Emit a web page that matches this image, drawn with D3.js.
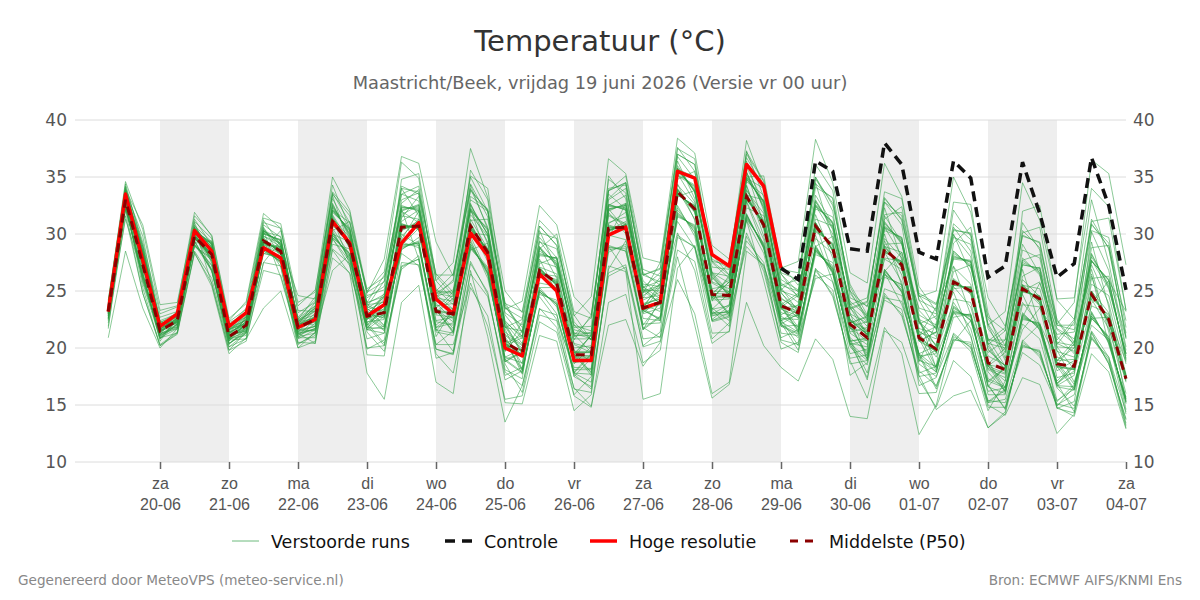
<!DOCTYPE html>
<html>
<head>
<meta charset="utf-8">
<script src="https://cdn.jsdelivr.net/npm/d3@7"></script>
<style>
  body { margin: 0; background: #fff; }
  svg { display: block; font-family: "DejaVu Sans", sans-serif; }
</style>
</head>
<body>
<svg id="chart" width="1200" height="600"></svg>
<script>
// first value at vr 19-06 06:00, one value every 6 hours
const startTime = new Date(2026, 5, 19, 6);
const stepHours = 6;

const hres = [23.2, 33.5, 27.7, 21.9, 23.0, 30.3, 28.5, 21.9, 23.1, 28.8, 27.9, 21.8, 22.5, 31.1, 29.2, 22.8,
  23.8, 29.2, 31.0, 24.3, 23.0, 30.1, 28.1, 20.0, 19.3, 26.5, 25.0, 18.9, 18.9, 29.9, 30.6, 23.5,
  24.0, 35.5, 34.9, 28.2, 27.2, 36.1, 34.2, 27.0];

const median = [23.2, 33.0, 27.3, 21.5, 22.4, 29.8, 28.2, 21.0, 22.0, 29.4, 28.5, 21.8, 22.5, 31.1, 29.1, 22.8,
  23.1, 30.6, 30.7, 23.2, 23.0, 30.7, 28.4, 20.5, 19.6, 26.8, 25.7, 19.4, 19.4, 30.5, 30.6, 23.5,
  24.0, 33.7, 32.2, 24.7, 24.6, 33.3, 30.8, 23.7, 23.1, 30.7, 28.8, 22.1, 20.9, 28.7, 27.3, 20.9,
  19.9, 25.8, 25.0, 18.7, 18.1, 25.2, 24.3, 18.6, 18.4, 24.7, 22.5, 17.3];

// control run is shown from 29-06 00:00 (step 39) onward
const controlStart = 39;
const control = [27.0, 26.0, 36.4, 35.5, 28.7, 28.5, 38.0, 36.1, 28.4, 27.8, 36.4, 34.9, 26.2, 27.2,
  36.3, 31.8, 26.2, 27.4, 36.7, 32.5, 25.1];

const runs = [
  [23.4,33.2,27.9,21.3, 22.7,30.6,28.8,21.7, 22.9,30.0,29.5,22.1, 24.0,33.6,31.0,24.9, 25.8,34.2,33.5,26.5, 24.9,32.0,30.5,21.8, 21.5,28.2,27.9,20.7, 22.9,33.8,34.5,26.4, 27.0,37.0,36.1,27.6, 26.4,34.8,32.9,24.8, 23.4,30.3,29.1,21.8, 19.5,26.2,25.6,18.9, 18.4,23.0,22.9,16.6, 18.4,25.6,24.0,18.9, 20.0,28.3,25.3,19.5],
  [23.9,33.4,28.9,22.2, 22.2,30.0,27.7,21.2, 21.6,28.3,27.9,21.0, 21.3,30.3,27.7,22.2, 20.4,27.1,27.8,19.9, 19.5,27.6,24.7,17.6, 18.3,24.7,24.2,17.5, 19.1,30.8,30.3,23.8, 24.3,33.4,32.5,24.4, 25.8,35.4,32.3,25.5, 25.0,32.4,31.1,23.4, 24.0,33.2,31.2,24.6, 23.8,30.3,30.1,22.0, 23.2,34.5,31.2,24.3, 24.4,34.0,32.4,23.3],
  [22.5,32.6,26.0,21.2, 22.1,29.0,27.3,20.3, 21.8,29.7,28.2,22.0, 22.8,30.8,29.4,22.5, 24.3,32.5,32.0,25.0, 26.5,33.8,32.1,23.4, 24.1,32.5,30.8,24.5, 22.9,33.8,34.5,26.4, 26.9,37.6,35.5,28.2, 26.4,34.8,32.9,24.9, 22.8,31.0,28.5,22.4, 21.2,28.4,27.6,20.6, 21.4,28.5,27.1,20.8, 20.2,27.3,27.0,20.1, 18.1,25.0,22.2,17.6],
  [23.0,33.2,27.2,21.7, 22.6,29.6,28.3,20.8, 22.4,30.5,29.0,22.6, 23.7,31.9,30.5,23.4, 22.8,30.9,30.4,23.5, 21.7,28.7,27.0,18.6, 16.1,23.5,21.8,16.5, 14.9,22.0,22.5,18.4, 20.5,26.0,23.0,16.0, 17.0,28.5,27.3,21.9, 21.2,29.0,26.5,20.8, 17.8,24.2,23.4,17.2, 14.8,18.9,17.5,13.0, 14.2,20.7,19.2,15.3, 16.8,22.6,21.0,15.1],
  [23.9,33.8,28.4,22.2, 23.1,30.2,29.3,21.3, 22.2,29.1,28.8,21.6, 23.1,32.5,29.9,24.0, 26.4,33.5,34.2,25.9, 27.5,37.5,33.2,25.0, 23.1,30.1,29.6,22.3, 20.7,32.6,32.1,25.4, 23.8,34.0,31.9,24.9, 22.8,31.8,28.7,22.5, 20.2,26.4,25.1,18.6, 18.9,26.9,24.9,19.5, 20.2,25.5,25.3,18.4, 19.6,27.9,26.4,20.7, 22.5,30.8,29.2,20.8],
  [22.9,32.2,26.6,20.8, 22.1,29.9,28.2,21.3, 22.3,29.2,28.7,21.5, 21.9,29.7,28.3,21.6, 21.3,29.3,28.8,22.0, 23.3,30.4,28.7,20.2, 20.9,28.9,27.2,21.3, 21.3,32.0,32.7,24.8, 27.5,37.0,36.1,27.6, 27.3,38.2,34.1,27.0, 27.6,38.3,34.5,26.6, 25.7,36.2,33.3,25.4, 23.2,30.9,29.5,22.6, 20.2,27.3,27.0,20.1, 20.0,28.2,25.4,19.5],
  [23.4,32.8,27.8,21.3, 21.7,29.4,26.7,20.7, 21.6,28.3,28.0,20.9, 22.2,31.4,28.8,23.1, 23.4,30.3,31.0,22.9, 22.7,31.0,28.1,20.8, 17.7,25.3,23.6,18.1, 18.1,28.4,29.1,21.6, 24.2,33.5,32.4,24.5, 24.4,33.6,30.5,23.9, 21.8,28.4,27.1,20.2, 18.9,26.9,24.9,19.5, 16.6,20.7,20.5,14.8, 14.8,20.1,19.8,14.7, 14.3,21.4,18.6,13.8],
  [23.1,33.1,27.4,21.6, 22.5,29.7,28.1,21.1, 21.9,29.5,28.4,21.9, 22.6,31.0,29.2,22.7, 24.8,32.0,32.6,24.4, 23.2,30.5,28.6,20.3, 19.8,26.6,25.9,19.2, 19.2,30.7,30.4,23.7, 25.4,35.8,33.7,26.6, 26.3,34.9,32.8,25.0, 24.5,33.0,30.5,24.0, 21.1,28.5,27.5,20.7, 19.7,26.1,24.8,18.9, 16.5,22.5,22.2,16.6, 16.3,23.2,20.4,15.7],
  [23.6,33.7,28.5,22.1, 22.8,30.6,28.8,21.6, 22.7,30.0,29.5,22.3, 23.5,32.0,30.4,23.5, 24.4,32.4,32.1,24.9, 24.8,32.2,30.3,21.9, 19.5,27.0,25.5,19.6, 19.6,30.3,30.8,23.3, 22.6,31.6,30.7,22.8, 23.3,31.3,29.2,22.0, 21.3,28.9,26.6,20.7, 17.2,24.8,22.8,17.8, 18.4,23.1,22.9,16.6, 16.0,23.1,21.6,17.1, 18.6,24.4,22.8,17.0],
  [21.9,31.6,24.8,20.2, 21.2,28.3,25.7,19.8, 20.6,27.5,27.2,20.3, 21.3,29.6,27.6,21.4, 19.7,27.2,27.8,19.5, 17.8,25.3,22.8,15.2, 15.1,21.1,20.6,14.5, 15.9,27.2,26.7,15.5, 16.0,27.0,29.0,23.4, 24.8,33.0,31.1,23.5, 23.3,30.5,29.0,21.9, 22.3,31.1,29.1,22.9, 22.0,27.9,27.7,20.2, 17.9,25.5,24.0,18.8, 16.8,22.6,21.0,15.2],
  [23.3,32.9,27.7,21.4, 22.3,29.9,27.9,21.2, 22.5,30.3,29.1,22.5, 23.2,32.4,30.0,23.9, 24.7,32.1,32.5,24.5, 26.0,34.4,31.5,24.0, 21.4,28.3,27.8,20.8, 20.8,32.5,32.2,25.3, 25.9,35.2,34.3,26.0, 27.4,37.2,34.7,26.9, 26.6,34.4,33.1,25.0, 22.4,31.0,29.2,22.3, 19.6,26.0,24.7,18.5, 16.1,23.0,21.7,16.5, 14.9,20.8,19.2,13.2],
  [23.0,33.3,27.3,21.8, 23.0,30.3,29.2,21.4, 22.1,29.6,28.3,21.7, 22.4,31.2,29.0,22.9, 21.8,28.7,29.4,21.4, 21.1,29.3,26.4,19.2, 19.9,26.5,26.0,19.1, 21.2,32.1,32.6,24.9, 25.3,35.7,33.8,26.5, 24.7,33.1,31.0,23.6, 21.6,28.5,27.0,20.3, 20.7,28.9,27.1,21.1, 21.9,28.0,27.6,20.3, 21.5,30.3,28.8,22.5, 20.5,27.6,26.0,19.0],
  [23.8,33.5,28.8,21.9, 22.3,29.6,28.1,20.9, 22.1,29.3,28.6,21.9, 23.3,32.3,30.1,23.8, 23.0,30.8,30.5,23.3, 23.1,30.6,28.5,20.4, 19.4,26.9,25.6,19.5, 17.6,28.9,28.5,22.1, 22.2,32.1,30.2,23.3, 21.9,29.4,27.5,20.5, 19.6,27.0,24.5,19.1, 19.4,26.4,25.5,19.0, 17.9,23.7,22.4,17.1, 16.5,22.6,22.1,16.9, 14.4,21.3,18.6,13.7],
  [22.6,32.5,26.1,21.1, 22.0,29.1,27.2,20.4, 21.3,28.7,27.5,21.3, 20.4,28.6,26.5,17.8, 15.5,24.0,25.5,17.0, 16.0,26.8,21.0,13.5, 16.7,22.9,22.4,15.9, 17.5,29.0,28.5,21.6, 22.7,31.7,30.6,22.9, 22.9,31.7,28.8,22.4, 23.4,30.4,29.1,21.8, 20.6,29.0,27.0,21.2, 18.3,23.2,22.8,16.7, 14.7,20.2,19.7,14.8, 14.0,19.5,17.9,12.9],
  [23.5,33.4,28.2,21.9, 22.7,30.1,28.4,21.3, 22.3,29.8,28.9,22.1, 23.6,32.1,30.3,23.6, 25.9,34.0,33.7,26.4, 26.4,33.9,32.0,23.5, 22.6,30.7,29.0,22.8, 24.5,36.6,35.3,27.9, 27.5,38.4,37.1,29.0, 27.8,37.0,34.6,26.5, 24.9,32.5,31.0,23.5, 24.1,33.1,31.3,24.5, 25.0,35.0,31.9,24.4, 21.9,29.8,29.3,22.0, 22.0,31.3,28.7,21.3],
  [23.1,32.9,27.6,21.6, 22.9,30.5,28.9,21.6, 22.8,30.1,29.4,22.3, 22.6,30.9,29.3,22.6, 23.2,30.5,30.9,23.0, 24.4,32.6,29.9,22.3, 21.0,28.8,27.3,21.2, 19.6,30.3,30.8,23.3, 22.5,31.8,30.5,23.0, 23.2,31.4,29.1,22.1, 23.0,30.8,28.7,22.2, 22.8,30.6,29.6,22.4, 20.1,25.6,25.2,18.5, 18.3,25.0,24.5,18.4, 18.2,24.9,22.3,17.5],
  [22.8,32.3,26.4,20.9, 22.4,29.7,27.9,21.1, 21.5,28.5,27.8,21.1, 21.7,29.9,28.1,21.8, 23.0,30.7,30.6,23.3, 21.5,28.9,26.8,18.8, 19.7,26.7,25.8,19.3, 19.3,30.6,30.5,23.6, 24.1,33.6,32.3,24.6, 24.5,33.4,30.7,23.8, 24.8,32.6,30.9,23.6, 21.0,28.6,27.4,20.8, 18.0,23.5,22.5,17.0, 18.2,25.1,24.4,18.5, 20.4,27.7,25.9,19.1],
  [23.6,33.9,28.6,22.0, 23.0,30.3,29.1,21.4, 22.0,29.5,28.4,21.9, 22.4,31.0,29.2,22.7, 21.5,29.1,29.0,21.8, 22.9,30.8,28.3,20.6, 18.1,24.9,24.0,17.7, 16.4,26.6,27.3,20.1, 20.6,28.0,22.0,15.6, 16.8,24.0,20.2,18.3, 17.1,20.8,19.0,14.0, 13.8,21.5,20.5,16.0, 16.1,21.3,20.0,15.3, 16.4,22.7,22.0,16.7, 16.6,22.8,20.8,15.3],
  [23.3,33.1,27.0,21.4, 22.6,29.9,28.2,20.9, 21.8,29.3,28.7,21.6, 21.5,30.1,27.8,22.0, 23.3,30.4,30.8,23.1, 24.7,32.3,30.0,22.2, 19.5,26.9,25.6,19.5, 21.1,32.2,32.5,25.0, 23.9,33.8,32.1,24.8, 26.0,35.2,32.5,25.3, 23.2,30.6,28.9,22.0, 19.3,26.5,25.3,19.1, 19.8,25.9,24.9,18.8, 16.2,22.9,21.8,16.9, 18.5,24.6,22.6,17.2],
  [22.8,32.5,26.2,21.1, 21.8,29.3,26.9,20.6, 22.1,29.2,28.6,21.7, 22.3,31.3,28.9,22.9, 23.1,30.7,30.5,23.4, 21.3,29.1,26.6,19.0, 17.9,25.1,23.8,17.9, 19.5,30.4,30.7,23.4, 24.1,33.9,32.0,24.6, 23.0,31.6,28.9,22.3, 21.4,28.8,26.7,20.6, 20.8,28.8,27.2,21.0, 23.6,30.4,30.0,22.1, 19.8,27.7,26.6,20.5, 20.2,28.0,25.6,19.3],
  [23.2,33.2,27.6,21.5, 22.5,29.8,28.1,21.0, 22.6,30.3,29.2,22.5, 24.5,33.5,31.6,24.8, 27.8,36.8,36.2,29.3, 26.3,35.0,32.0,23.8, 21.3,28.5,27.6,21.1, 21.1,32.4,32.3,25.2, 23.9,33.6,32.3,24.8, 24.7,33.2,30.9,23.6, 24.6,32.8,30.7,23.8, 24.4,32.8,31.6,24.2, 21.6,28.3,27.3,20.6, 21.8,29.9,29.2,22.1, 24.0,36.5,35.3,27.3],
  [23.0,32.7,27.1,21.6, 21.8,29.1,26.8,20.4, 21.4,28.7,27.6,21.2, 21.7,30.1,27.9,21.8, 21.7,28.9,29.2,21.6, 21.3,28.8,26.9,19.0, 19.6,26.6,25.8,19.3, 17.9,28.6,28.9,21.8, 20.9,29.9,28.8,21.3, 21.4,29.8,27.0,20.9, 21.6,28.6,26.9,20.4, 19.1,26.7,25.1,19.3, 16.4,20.8,20.3,15.0, 14.1,17.4,16.8,12.5, 14.2,20.9,18.8,13.0],
  [23.8,33.5,28.4,22.1, 22.4,29.8,28.1,21.0, 22.0,29.4,28.4,21.9, 22.6,31.1,29.0,22.8, 24.5,32.3,32.2,24.8, 24.5,32.5,30.0,22.0, 19.7,26.8,25.6,19.4, 19.3,30.6,30.5,23.5, 25.7,35.4,34.1,26.2, 24.6,33.2,30.9,23.7, 23.0,30.9,28.6,22.2, 22.7,30.7,29.5,22.5, 21.8,28.1,27.5,20.4, 18.0,25.3,24.2,18.7, 16.4,23.0,20.6,15.5],
  [23.3,32.9,27.5,21.4, 22.4,29.7,27.8,21.1, 21.5,28.6,27.8,21.1, 22.5,31.0,29.1,22.8, 24.6,32.3,32.3,24.6, 23.0,30.7,28.4,20.5, 18.0,25.1,23.8,17.8, 17.7,28.8,28.7,22.0, 24.0,33.7,32.2,24.7, 26.2,35.0,32.7,25.1, 26.4,34.8,32.7,25.4, 22.5,30.9,29.3,22.7, 18.2,23.3,22.7,16.8, 14.6,20.3,19.6,14.9, 16.6,22.8,20.8,15.3],
  [22.6,32.3,26.5,20.9, 21.3,28.5,26.1,20.1, 21.3,28.5,27.6,21.3, 21.6,29.9,28.1,22.0, 20.2,27.5,27.3,20.3, 21.5,29.1,26.6,18.8, 19.6,26.7,25.7,19.4, 21.1,32.2,32.5,25.0, 25.5,35.6,33.9,26.4, 24.5,33.4,30.7,23.8, 21.5,28.6,26.9,20.4, 17.4,24.6,23.0,17.6, 14.6,15.8,16.3,13.0, 14.4,20.5,19.4,15.1, 14.7,21.0,19.0,13.4],
  [23.1,33.2,27.4,21.6, 22.8,30.5,28.9,21.6, 22.5,30.1,29.4,22.3, 23.5,32.1,30.3,23.6, 23.2,30.5,30.8,23.1, 23.1,30.6,28.5,20.4, 21.1,28.7,27.4,21.1, 22.7,34.0,34.3,26.6, 25.5,35.6,33.9,26.2, 24.7,33.2,30.9,23.6, 21.4,28.8,26.7,20.6, 20.9,28.6,27.4,20.8, 19.9,25.7,25.1,18.6, 20.0,27.5,26.8,20.3, 22.3,30.9,28.8,21.0],
  [23.2,33.0,27.6,21.5, 22.3,29.8,27.9,21.0, 22.0,29.4,28.5,21.8, 22.5,31.2,29.0,22.8, 21.6,29.0,29.2,21.7, 19.7,27.4,24.9,17.2, 18.0,24.9,23.9,17.8, 19.4,30.5,30.6,23.5, 22.4,31.9,30.4,23.1, 23.1,31.5,29.0,22.2, 19.8,26.8,24.7,18.9, 15.6,21.8,19.5,12.4, 15.0,21.0,20.1,15.2, 16.3,22.8,21.9,16.8, 18.4,24.7,22.5,17.3],
  [20.9,28.5,23.5,20.0, 21.7,29.4,26.8,20.7, 20.8,23.5,25.0,20.0, 21.4,26.8,28.2,21.6, 21.9,28.8,29.3,21.5, 23.2,30.4,28.7,20.2, 19.4,27.1,25.4,19.7, 19.7,30.2,30.9,23.2, 25.3,35.8,33.7,26.6, 24.9,33.0,31.1,23.4, 22.8,31.0,28.5,22.4, 21.2,28.4,27.6,20.6, 21.4,28.5,27.1,20.8, 18.4,24.9,24.6,18.3, 18.1,25.0,22.2,17.6],
  [23.5,33.8,28.4,22.3, 22.7,29.6,28.3,20.8, 22.2,29.2,28.9,21.4, 21.9,29.7,28.3,21.6, 22.8,30.9,30.4,23.5, 24.9,32.1,30.4,21.8, 22.5,30.7,29.0,22.9, 20.7,32.6,32.1,25.4, 24.3,33.4,32.5,24.4, 25.8,35.4,32.3,25.5, 26.0,35.0,32.5,25.6, 22.9,30.5,29.7,22.3, 20.2,25.5,25.3,18.4, 17.8,25.5,24.0,18.9, 20.6,27.6,26.0,18.9],
  [23.2,32.8,27.3,21.7, 22.2,29.6,28.2,20.8, 22.2,29.2,28.3,22.0, 22.7,30.9,29.3,22.6, 22.9,30.8,30.5,23.4, 22.8,30.9,28.2,20.7, 19.4,27.0,25.5,19.6, 19.6,30.3,30.8,23.3, 23.8,33.9,32.0,24.9, 23.0,31.7,28.8,22.4, 22.9,30.9,28.6,22.3, 19.0,26.8,25.0,19.4, 17.9,23.6,22.4,17.1, 18.3,25.0,24.5,18.4, 16.3,23.1,20.5,15.6],
  [23.5,33.8,29.8,22.1, 22.8,31.0,27.4,21.9, 23.5,31.2,29.0,24.6, 24.3,34.3,30.5,23.3, 21.9,31.4,33.3,24.7, 23.4,29.5,26.1,19.7, 21.5,30.3,26.9,19.7, 17.8,29.6,32.7,25.9, 24.5,31.1,28.8,23.5, 22.4,34.9,34.0,25.7, 24.6,29.9,25.8,19.5, 19.9,32.8,30.8,22.1, 22.8,32.1,29.8,21.7, 19.6,24.7,21.5,16.7, 17.6,30.3,29.7,21.8],
  [22.4,34.2,27.8,21.1, 23.3,30.6,25.6,19.8, 21.4,27.5,29.4,22.4, 23.7,31.5,27.3,19.9, 20.7,29.5,32.0,23.4, 21.4,33.3,32.2,23.1, 22.0,27.8,24.8,17.5, 16.6,33.0,34.0,24.6, 25.6,36.4,33.1,22.3, 22.7,28.9,27.2,22.9, 23.8,34.1,33.2,24.4, 23.7,26.6,23.8,19.5, 18.3,29.2,30.6,22.7, 21.5,31.0,28.6,19.8, 17.0,22.0,20.7,14.2],
  [23.7,33.9,30.8,23.8, 24.0,31.3,29.0,21.6, 22.2,30.3,26.2,20.8, 21.6,29.1,28.7,24.4, 25.4,34.0,31.6,21.8, 22.2,31.2,31.3,23.9, 23.2,31.2,29.6,22.0, 20.7,31.9,30.0,21.7, 22.8,34.8,35.5,27.8, 27.0,36.4,32.0,22.1, 20.9,26.1,26.5,22.5, 21.6,31.3,32.4,24.2, 23.4,30.0,26.5,17.3, 16.6,21.6,23.5,21.2, 21.4,26.5,20.3,15.5],
  [21.7,32.8,25.3,20.2, 21.3,29.2,29.4,22.3, 23.4,30.6,27.9,20.5, 20.4,30.3,31.1,25.2, 26.2,32.2,27.8,19.1, 19.6,28.6,29.2,22.2, 20.4,25.0,23.0,16.4, 16.1,26.9,29.4,24.4, 26.2,37.5,36.6,27.5, 26.1,31.2,25.9,19.9, 20.5,28.9,29.8,24.1, 22.8,32.3,27.7,18.0, 16.7,20.5,22.4,19.6, 20.7,30.1,30.6,22.4, 20.2,29.3,23.6,15.3],
  [24.0,34.4,28.9,22.3, 22.0,30.1,26.8,20.1, 20.8,28.6,30.3,23.7, 25.1,33.4,28.8,19.4, 19.3,28.6,29.7,24.8, 25.8,35.1,34.0,23.6, 21.8,24.5,22.5,18.3, 18.2,35.1,33.1,23.9, 24.3,30.1,26.8,20.4, 21.5,35.0,35.1,27.3, 25.5,30.9,26.6,17.6, 18.7,26.7,28.4,23.5, 23.0,32.8,32.6,23.1, 19.1,26.9,21.9,14.7, 15.3,23.9,25.9,23.2],
  [22.8,33.4,26.3,21.7, 22.6,28.9,27.9,21.5, 22.6,29.5,27.1,20.0, 20.6,27.9,26.6,21.7, 23.9,34.8,35.3,26.3, 24.6,32.2,27.8,18.1, 17.3,27.4,28.0,22.0, 21.5,28.9,26.8,20.2, 21.4,33.3,33.8,25.8, 25.2,35.5,30.9,22.8, 21.8,36.1,33.8,24.8, 22.8,30.0,25.5,16.7, 17.4,22.7,23.0,18.1, 17.4,32.0,32.5,24.2, 22.5,33.0,27.5,20.1],
  [23.3,32.3,28.1,22.7, 23.2,31.6,29.9,22.6, 23.9,31.4,30.9,24.0, 24.9,35.0,32.1,25.0, 26.7,36.3,34.9,25.0, 24.9,33.0,32.0,21.7, 18.1,28.7,30.0,23.2, 22.6,33.5,32.2,24.2, 24.9,36.0,33.7,24.2, 24.3,37.3,33.2,25.1, 24.0,31.7,27.9,20.4, 20.1,31.7,31.9,24.8, 23.9,27.2,22.9,15.9, 15.9,22.7,25.7,21.6, 20.4,31.1,31.4,23.3],
  [23.0,34.0,27.5,20.9, 21.7,30.4,29.1,21.3, 21.7,30.2,29.8,22.2, 22.0,32.6,29.8,22.0, 23.5,29.0,30.5,22.3, 22.0,30.1,29.9,21.2, 20.2,29.4,27.4,21.3, 20.8,31.0,31.5,25.3, 26.6,32.3,30.1,23.0, 23.8,32.3,31.6,24.3, 23.5,32.5,30.0,22.4, 21.5,27.8,26.9,21.4, 20.8,27.8,27.6,19.9, 18.4,26.0,24.5,18.0, 18.9,27.3,23.9,17.7],
  [23.8,33.6,26.7,20.6, 22.7,30.7,29.3,20.8, 21.1,30.4,28.7,22.7, 24.2,33.7,31.9,24.6, 25.1,33.5,32.9,23.9, 22.5,34.0,30.6,22.4, 20.8,28.9,26.1,18.7, 19.0,32.5,33.4,25.1, 25.0,36.8,34.8,26.6, 25.7,35.9,32.7,24.1, 22.6,33.4,30.9,23.5, 21.9,30.3,29.7,21.7, 21.3,30.6,28.5,20.4, 20.0,28.6,27.9,21.0, 19.5,27.7,25.2,19.5],
  [22.2,32.1,24.8,20.3, 21.4,28.4,25.4,19.5, 20.9,26.8,26.4,20.9, 20.9,28.7,27.4,20.0, 20.2,26.9,28.1,19.9, 19.4,26.5,24.5,17.9, 16.7,23.4,22.9,17.8, 17.0,26.3,27.1,20.8, 21.0,28.6,27.6,20.8, 22.2,30.1,26.7,20.7, 20.3,26.9,25.8,20.1, 18.5,25.2,24.6,17.5, 17.8,24.3,24.0,17.9, 16.2,22.1,20.8,15.4, 16.4,21.5,19.2,14.4],
  [23.4,33.1,28.5,21.9, 22.2,29.5,28.6,21.8, 22.4,29.8,29.2,22.1, 22.7,30.5,28.2,22.9, 22.7,31.7,32.5,25.2, 23.8,28.9,27.1,20.2, 19.8,27.1,26.5,20.4, 20.0,31.6,30.8,23.1, 24.2,34.3,32.6,25.2, 25.5,32.9,29.5,22.6, 22.5,29.6,28.3,22.5, 21.2,28.9,28.4,22.3, 21.0,25.4,23.6,18.2, 17.7,25.5,25.2,19.7, 19.2,24.3,21.7,17.1],
  [22.6,31.3,26.4,21.2, 21.9,29.7,27.6,20.6, 22.8,30.8,29.7,22.4, 22.9,32.1,31.0,23.5, 22.0,29.8,31.3,23.4, 22.3,31.7,29.8,21.0, 18.6,25.7,25.4,18.6, 20.1,29.9,29.5,23.8, 23.2,35.1,34.2,25.7, 24.9,34.2,30.4,23.1, 22.7,28.6,27.2,20.9, 19.7,27.9,27.6,21.5, 20.3,27.1,25.6,18.4, 17.1,23.8,23.6,17.4, 17.8,23.7,23.0,17.6],
  [24.2,34.1,29.3,23.0, 23.6,30.8,28.3,20.9, 21.7,29.1,27.7,20.4, 21.1,29.6,27.2,20.8, 21.3,31.1,32.1,24.4, 24.1,35.6,33.0,22.9, 21.0,29.7,27.9,20.3, 19.6,33.1,34.5,26.4, 25.8,35.3,32.8,24.3, 24.8,34.6,33.4,26.0, 25.1,32.9,30.4,22.9, 21.4,29.4,26.4,19.3, 19.5,26.7,27.3,20.7, 20.7,29.1,26.5,19.2, 18.6,25.6,24.6,18.6],
  [22.7,33.2,27.8,21.8, 22.9,30.3,28.6,21.7, 22.1,28.9,28.3,22.0, 23.4,33.1,30.4,23.3, 24.1,32.0,31.0,22.4, 22.7,29.8,26.5,19.2, 18.7,26.5,26.3,19.8, 18.8,30.9,31.9,24.4, 24.6,33.9,31.3,23.4, 23.7,31.2,28.3,21.9, 22.0,31.3,30.7,23.7, 22.3,30.6,28.1,20.6, 19.7,24.0,21.7,16.2, 16.5,25.0,25.8,20.4, 19.7,26.3,21.9,16.0],
  [23.6,33.3,25.7,20.8, 22.5,29.8,28.8,22.0, 22.7,31.0,30.5,23.3, 23.2,31.7,29.2,22.2, 23.3,30.0,29.0,21.0, 23.5,32.7,29.1,19.7, 22.3,29.3,28.7,21.6, 21.2,32.2,30.4,22.6, 22.4,31.5,30.8,24.1, 26.4,36.7,34.1,26.5, 24.4,35.0,32.0,23.1, 19.0,24.4,24.1,18.8, 22.2,29.7,29.1,22.0, 18.9,24.0,22.0,16.9, 18.0,26.1,26.3,20.9],
  [23.4,32.7,27.6,21.5, 22.4,30.2,28.1,20.4, 21.5,29.0,28.9,21.9, 22.3,31.6,28.7,22.5, 23.7,30.4,31.1,24.1, 23.4,31.3,28.7,21.4, 20.3,27.0,25.1,19.1, 19.1,30.3,31.1,23.7, 24.5,33.6,31.9,25.0, 24.9,33.9,31.2,23.9, 22.9,31.0,28.5,21.7, 21.4,29.6,27.9,21.1, 19.6,25.2,25.4,19.3, 18.5,25.4,23.8,18.4, 18.1,25.0,23.1,17.4],
  [22.9,33.7,29.1,22.4, 23.0,31.1,29.6,21.4, 22.5,29.0,27.4,21.3, 21.7,31.4,29.7,24.0, 24.5,32.7,33.9,25.9, 24.2,30.5,27.6,18.9, 17.8,25.3,25.3,20.0, 20.2,33.8,35.1,26.9, 26.3,34.4,31.2,22.4, 23.1,33.4,33.0,26.6, 26.0,34.5,29.5,21.3, 20.3,29.1,29.2,23.3, 21.7,24.9,21.1,15.2, 15.5,20.6,22.1,18.9, 19.0,28.8,29.0,22.4],
  [23.1,32.5,25.9,21.0, 22.1,29.0,27.7,20.8, 21.4,28.7,27.6,21.4, 22.8,30.7,29.6,23.8, 24.0,33.0,33.6,24.5, 25.1,34.3,30.4,20.8, 19.2,27.6,27.1,21.0, 21.4,31.7,30.9,23.0, 23.5,32.5,29.8,22.5, 23.7,33.8,31.8,24.4, 23.3,30.2,29.2,23.0, 22.2,31.6,29.3,21.3, 19.2,23.2,21.0,15.4, 15.2,19.6,18.5,15.0, 15.9,22.6,22.7,18.8],
  [23.7,33.5,28.2,22.0, 22.8,30.0,29.2,22.2, 23.0,30.3,29.0,21.6, 21.9,30.0,29.3,23.1, 22.6,28.3,27.2,20.3, 20.3,25.7,21.9,15.5, 15.8,22.3,21.4,15.8, 14.8,24.0,24.7,18.7, 19.8,29.7,28.9,22.4, 22.8,32.8,28.9,21.3, 21.1,28.2,27.5,21.4, 21.8,28.4,25.8,18.6, 17.5,21.2,19.7,14.5, 17.1,27.7,28.2,21.7, 20.8,26.9,21.4,14.6],
  [24.1,34.6,30.4,23.3, 23.7,31.9,29.8,22.4, 24.1,31.8,30.5,23.1, 24.0,32.7,29.6,22.3, 22.5,31.6,31.3,23.7, 23.9,32.1,29.3,21.1, 20.0,28.1,27.9,21.8, 21.9,34.8,33.6,25.6, 25.4,35.7,35.0,27.1, 26.9,34.3,29.8,23.5, 23.7,32.2,31.5,25.0, 23.6,33.7,33.1,24.6, 22.5,29.9,28.0,19.8, 18.4,26.3,27.1,22.0, 21.6,30.2,26.8,19.8]
];

const shadedDays = ["2026-06-20", "2026-06-22", "2026-06-24", "2026-06-26", "2026-06-28", "2026-06-30", "2026-07-02"];
const dayNames = ["zo", "ma", "di", "wo", "do", "vr", "za"];
const yTicks = [10, 15, 20, 25, 30, 35, 40];

const times = median.map((d, i) => d3.timeHour.offset(startTime, i * stepHours));

const width = 1200, height = 600;
const plot = { left: 75, right: 1126, top: 120, bottom: 462 };

const svg = d3.select("#chart");

const x = d3.scaleTime()
    .domain([new Date(2026, 5, 18, 18, 26), new Date(2026, 6, 4, 0)])
    .range([plot.left, plot.right]);

const y = d3.scaleLinear()
    .domain([10, 40])
    .range([plot.bottom, plot.top]);

// titles
svg.append("text")
    .text("Temperatuur (°C)")
    .attr("x", width / 2)
    .attr("y", 51)
    .attr("text-anchor", "middle")
    .style("font-size", "29px")
    .style("fill", "#333");

svg.append("text")
    .text("Maastricht/Beek, vrijdag 19 juni 2026 (Versie vr 00 uur)")
    .attr("x", width / 2)
    .attr("y", 89)
    .attr("text-anchor", "middle")
    .style("font-size", "17.8px")
    .style("fill", "#666");

// shading, every other day
const parseDay = d3.timeParse("%Y-%m-%d");
svg.append("g").selectAll("rect")
    .data(shadedDays.map(parseDay))
    .enter()
    .append("rect")
    .attr("x", d => x(d))
    .attr("width", d => x(d3.timeDay.offset(d, 1)) - x(d))
    .attr("y", plot.top)
    .attr("height", plot.bottom - plot.top)
    .style("fill", "#eeeeee");

// horizontal grid
svg.append("g").selectAll("line")
    .data(yTicks)
    .enter()
    .append("line")
    .attr("x1", plot.left)
    .attr("x2", plot.right)
    .attr("y1", d => y(d))
    .attr("y2", d => y(d))
    .style("stroke", "#dcdcdc")
    .style("stroke-width", 1);

const line = offset => d3.line()
    .x((d, i) => x(times[i + offset]))
    .y(d => y(d));

// ensemble members
svg.append("g").selectAll("path")
    .data(runs)
    .enter()
    .append("path")
    .attr("d", line(0))
    .style("fill", "none")
    .style("stroke", "#2e9e44")
    .style("stroke-width", 1)
    .style("stroke-opacity", 0.55);

svg.append("path")
    .datum(hres)
    .attr("d", line(0))
    .style("fill", "none")
    .style("stroke", "#ff0000")
    .style("stroke-width", 3.5)
    .style("stroke-linejoin", "round");

svg.append("path")
    .datum(median)
    .attr("d", line(0))
    .style("fill", "none")
    .style("stroke", "#8b0000")
    .style("stroke-width", 3)
    .style("stroke-dasharray", "9,6");

svg.append("path")
    .datum(control)
    .attr("d", line(controlStart))
    .style("fill", "none")
    .style("stroke", "#111")
    .style("stroke-width", 3.5)
    .style("stroke-dasharray", "10,6");

// x axis with two-line day labels
const tickDays = d3.timeDay.range(new Date(2026, 5, 20), new Date(2026, 6, 4, 1));
const xAxis = svg.append("g")
    .attr("transform", `translate(0, ${plot.bottom})`)
    .call(d3.axisBottom(x).tickValues(tickDays).tickSize(7).tickFormat(""));
xAxis.select(".domain").remove();
xAxis.selectAll(".tick line").style("stroke", "#666").style("stroke-width", 1.5);
xAxis.selectAll(".tick").append("text")
    .text(d => dayNames[d.getDay()])
    .attr("y", 27)
    .attr("text-anchor", "middle")
    .style("font-size", "16px")
    .style("fill", "#555");
xAxis.selectAll(".tick").append("text")
    .text(d => d3.timeFormat("%d-%m")(d))
    .attr("y", 48)
    .attr("text-anchor", "middle")
    .style("font-size", "16px")
    .style("fill", "#555");

// y axes both sides
const styleY = g => {
    g.select(".domain").remove();
    g.selectAll("text").style("font-size", "17px").style("fill", "#555")
        .style("font-family", "DejaVu Sans, sans-serif");
};
svg.append("g")
    .attr("transform", `translate(${plot.left}, 0)`)
    .call(d3.axisLeft(y).tickValues(yTicks).tickSize(0).tickPadding(8))
    .call(styleY);
svg.append("g")
    .attr("transform", `translate(${plot.right}, 0)`)
    .call(d3.axisRight(y).tickValues(yTicks).tickSize(0).tickPadding(7))
    .call(styleY);

// legend
const legendItems = [
    { label: "Verstoorde runs", x: 232, stroke: "#2e9e44", width: 1, dash: null, opacity: 0.7 },
    { label: "Controle", x: 445, stroke: "#111", width: 3.5, dash: "10,7", opacity: 1 },
    { label: "Hoge resolutie", x: 590, stroke: "#ff0000", width: 3.5, dash: null, opacity: 1 },
    { label: "Middelste (P50)", x: 790, stroke: "#8b0000", width: 3, dash: "8,7", opacity: 1 }
];
const legend = svg.append("g").selectAll("g")
    .data(legendItems)
    .enter()
    .append("g")
    .attr("transform", d => `translate(${d.x}, 541)`);
legend.append("line")
    .attr("x1", 0)
    .attr("x2", 27)
    .style("stroke", d => d.stroke)
    .style("stroke-width", d => d.width)
    .style("stroke-opacity", d => d.opacity)
    .style("stroke-dasharray", d => d.dash);
legend.append("text")
    .text(d => d.label)
    .attr("x", 39)
    .attr("y", 6.5)
    .style("font-size", "17.5px")
    .style("fill", "#111");

// footer
svg.append("text")
    .text("Gegenereerd door MeteoVPS (meteo-service.nl)")
    .attr("x", 18)
    .attr("y", 585)
    .style("font-size", "13.6px")
    .style("fill", "#888");
svg.append("text")
    .text("Bron: ECMWF AIFS/KNMI Ens")
    .attr("x", 1182)
    .attr("y", 585)
    .attr("text-anchor", "end")
    .style("font-size", "13.6px")
    .style("fill", "#888");
</script>
</body>
</html>
